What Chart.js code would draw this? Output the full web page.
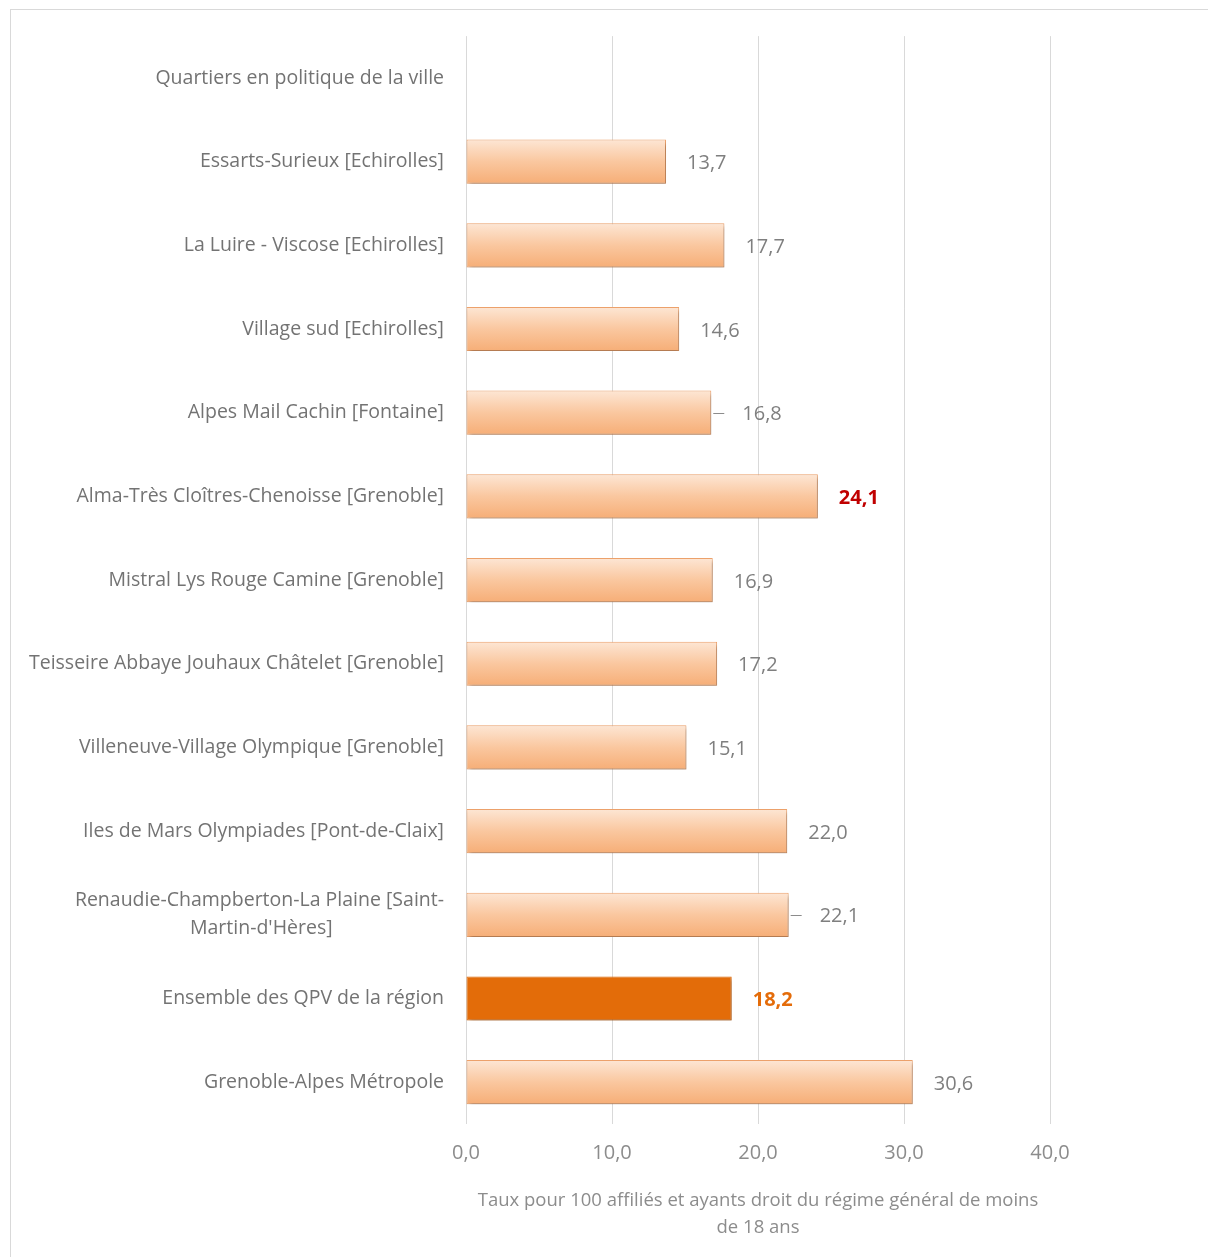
<!DOCTYPE html>
<html lang="fr">
<head>
  <meta charset="UTF-8" />
  <title>Taux QPV</title>
  <script src="https://cdn.jsdelivr.net/npm/chart.js"></script>
  <style>
    body { margin: 0; background: #fff; }
    #cadre {
      position: absolute; left: 10px; top: 9px;
      width: 1220px; height: 1260px;
      border: 1px solid #d9d9d9;
    }
    #wrap { position: absolute; left: 0; top: 0; width: 1208px; height: 1257px; }
  </style>
</head>
<body>
  <div id="cadre"></div>
  <div id="wrap"><canvas id="graphique" width="1208" height="1257"></canvas></div>

  <script>
    // Données
    const quartiers = [
      "Quartiers en politique de la ville",
      "Essarts-Surieux [Echirolles]",
      "La Luire - Viscose [Echirolles]",
      "Village sud [Echirolles]",
      "Alpes Mail Cachin [Fontaine]",
      "Alma-Très Cloîtres-Chenoisse [Grenoble]",
      "Mistral Lys Rouge Camine [Grenoble]",
      "Teisseire Abbaye Jouhaux Châtelet [Grenoble]",
      "Villeneuve-Village Olympique [Grenoble]",
      "Iles de Mars Olympiades [Pont-de-Claix]",
      ["Renaudie-Champberton-La Plaine [Saint-", "Martin-d'Hères]"],
      "Ensemble des QPV de la région",
      "Grenoble-Alpes Métropole"
    ];
    const taux = [null, 13.7, 17.7, 14.6, 16.8, 24.1, 16.9, 17.2, 15.1, 22.0, 22.1, 18.2, 30.6];
    const graduations = [0, 10, 20, 30, 40];
    const titreAxe = ["Taux pour 100 affiliés et ayants droit du régime général de moins", "de 18 ans"];

    const police = "'Open Sans', sans-serif";
    const tailleLabel = 19.5;
    const fmt = v => v.toFixed(1).replace(".", ",");

    // pour centrer les lignes d'une étiquette sur deux lignes
    const mesure = document.createElement("canvas").getContext("2d");
    mesure.font = tailleLabel + "px " + police;
    function centrer(label) {
      if (!Array.isArray(label)) return label;
      const largeurs = label.map(l => mesure.measureText(l).width);
      const max = Math.max(...largeurs);
      const esp = mesure.measureText(" ").width;
      return label.map((l, k) => {
        const n = Math.round((max - largeurs[k]) / 2 / esp);
        return l + " ".repeat(n);
      });
    }

    function degrade(context) {
      const i = context.dataIndex;
      if (quartiers[i] === "Ensemble des QPV de la région") return "#E36C09";
      const chart = context.chart;
      const y = chart.scales && chart.scales.y;
      if (!y || y.top === undefined) return "#F9C090";
      const yc = y.getPixelForValue(i);
      const g = chart.ctx.createLinearGradient(0, yc - 22, 0, yc + 22);
      g.addColorStop(0, "#FDE6D4");
      g.addColorStop(0.5, "#FAC79F");
      g.addColorStop(1, "#F6AE77");
      return g;
    }

    // ombre légère sous les barres
    const ombre = {
      id: "ombre",
      beforeDatasetDraw(chart) {
        const ctx = chart.ctx;
        ctx.save();
        ctx.shadowColor = "rgba(0,0,0,0.28)";
        ctx.shadowOffsetX = 2;
        ctx.shadowOffsetY = 3;
        ctx.shadowBlur = 4;
      },
      afterDatasetDraw(chart) {
        chart.ctx.restore();
      }
    };

    // étiquettes de valeurs
    const etiquettes = {
      id: "etiquettes",
      afterDatasetsDraw(chart) {
        const ctx = chart.ctx;
        const meta = chart.getDatasetMeta(0);
        ctx.save();
        ctx.textBaseline = "middle";
        ctx.textAlign = "left";
        meta.data.forEach((bar, i) => {
          const v = taux[i];
          if (v === null) return;
          let couleur = "#7f7f7f", gras = "";
          if (i === 5) { couleur = "#C00000"; gras = "bold "; }
          if (i === 11) { couleur = "#E46C0A"; gras = "bold "; }
          let dx = 21;
          if (i === 4 || i === 10) {
            dx = 31;
            ctx.strokeStyle = "#8c8c8c";
            ctx.lineWidth = 1;
            ctx.beginPath();
            ctx.moveTo(bar.x + 2, Math.round(bar.y) + 0.5);
            ctx.lineTo(bar.x + 13, Math.round(bar.y) + 0.5);
            ctx.stroke();
          }
          ctx.fillStyle = couleur;
          ctx.font = gras + "20px " + police;
          ctx.fillText(fmt(v), bar.x + dx, bar.y + 2);
        });
        ctx.restore();
      }
    };

    new Chart(document.getElementById("graphique"), {
      type: "bar",
      data: {
        labels: quartiers,
        datasets: [{
          data: taux,
          backgroundColor: degrade,
          borderColor: ctx => ctx.dataIndex === 11 ? "#E36C09" : "#EFA36C",
          borderWidth: 1,
          borderSkipped: false,
          barPercentage: 0.66,
          categoryPercentage: 0.8
        }]
      },
      options: {
        indexAxis: "y",
        responsive: false,
        animation: false,
        devicePixelRatio: 1,
        layout: { padding: { top: 36, right: 158, left: 0, bottom: 0 } },
        plugins: {
          legend: { display: false },
          tooltip: { enabled: false }
        },
        scales: {
          x: {
            min: 0,
            max: 40,
            afterBuildTicks: s => { s.ticks = graduations.map(v => ({ value: v })); },
            afterFit: s => { s.height = 133; },
            border: { display: false },
            grid: { color: "#d9d9d9", lineWidth: 1, drawTicks: false },
            ticks: {
              padding: 17,
              color: "#8c8c8c",
              font: { family: police, size: 20 },
              callback: v => fmt(v)
            },
            title: {
              display: true,
              text: titreAxe,
              color: "#8c8c8c",
              padding: { top: 4, bottom: 15 },
              font: { family: police, size: 18.5, lineHeight: 1.5 }
            }
          },
          y: {
            afterFit: s => { s.width = 466; },
            border: { display: false },
            grid: { display: false, drawTicks: false },
            ticks: {
              padding: 22,
              color: "#737373",
              font: { family: police, size: tailleLabel, lineHeight: 1.45 },
              callback: function (v, i) { return centrer(quartiers[i]); }
            }
          }
        }
      },
      plugins: [ombre, etiquettes]
    });
  </script>
</body>
</html>
